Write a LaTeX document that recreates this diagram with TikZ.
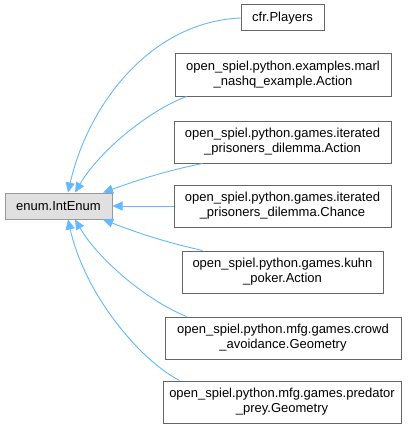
\documentclass[tikz,border=0pt]{standalone}
\usepackage{fontspec}
\setmainfont{Liberation Sans}
\usetikzlibrary{arrows.meta}
\definecolor{edgeblue}{HTML}{63B8FF}
\definecolor{boxgray}{HTML}{666666}
\definecolor{basefill}{HTML}{E0E0E0}
\definecolor{baseline}{HTML}{999999}
\tikzset{
  cls/.style={draw=boxgray, line width=1pt, fill=white, inner sep=0pt, align=center,
    font=\fontsize{13}{15}\selectfont, minimum height=42pt},
  basecls/.style={cls, draw=baseline, fill=basefill, minimum height=26pt},
  edge/.style={draw=edgeblue, line width=0.9pt, -{Triangle[length=10pt,width=9pt]}},
}
\begin{document}
\begin{tikzpicture}[x=1pt,y=-1pt]
\useasboundingbox (0,0) rectangle (411,428);
\node[basecls, minimum width=107pt] (base) at (58.5,206) {enum.IntEnum};
\node[cls, minimum width=83pt, minimum height=26pt] (cfr) at (282.5,18) {cfr.Players};
\node[cls, minimum width=216pt] (marl) at (283,75) {open\_spiel.python.examples.marl\\\_nashq\_example.Action};
\node[cls, minimum width=217pt] (ipa) at (282.5,142) {open\_spiel.python.games.iterated\\\_prisoners\_dilemma.Action};
\node[cls, minimum width=217pt] (ipc) at (282.5,206) {open\_spiel.python.games.iterated\\\_prisoners\_dilemma.Chance};
\node[cls, minimum width=201pt] (kuhn) at (282.5,272) {open\_spiel.python.games.kuhn\\\_poker.Action};
\node[cls, minimum width=236pt] (crowd) at (283,338) {open\_spiel.python.mfg.games.crowd\\\_avoidance.Geometry};
\node[cls, minimum width=238pt] (pred) at (282,402) {open\_spiel.python.mfg.games.predator\\\_prey.Geometry};

\draw[edge] (cfr.west) .. controls (150,22) and (88,105) .. ([xshift=9.5pt]base.north);
\draw[edge] ([xshift=12pt]marl.south west) .. controls (150,110) and (100,150) .. ([xshift=16.5pt]base.north);
\draw[edge] ([xshift=29pt]ipa.south west) .. controls (160,172) and (130,183) .. ([xshift=44.5pt]base.north);
\draw[edge] (ipc.west) -- (base.east);
\draw[edge] ([xshift=21pt]kuhn.north west) .. controls (160,241) and (130,230) .. ([xshift=44.5pt]base.south);
\draw[edge] ([xshift=22pt]crowd.north west) .. controls (150,302) and (100,262) .. ([xshift=16.5pt]base.south);
\draw[edge] ([xshift=17pt]pred.north west) .. controls (140,360) and (85,295) .. ([xshift=9.5pt]base.south);
\end{tikzpicture}
\end{document}
